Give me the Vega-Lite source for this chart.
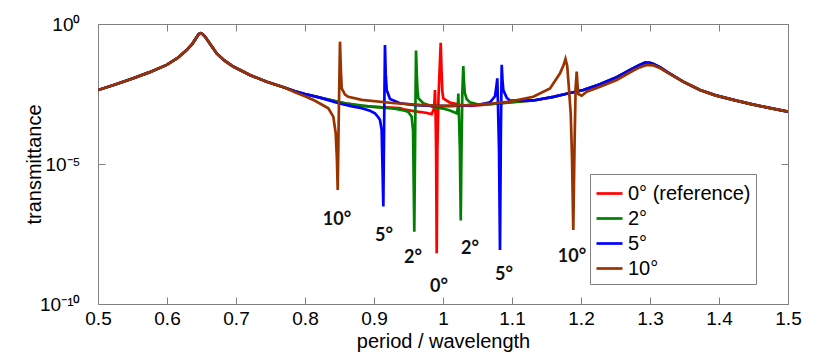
{
  "$schema": "https://vega.github.io/schema/vega-lite/v6.json",
  "autosize": "none",
  "width": 690,
  "height": 280,
  "padding": {"left": 98, "top": 24, "right": 34, "bottom": 49},
  "background": "white",
  "datasets": {
    "lines": [
      {"s":"0° (reference)","x":0.5,"t":4.37e-3},{"s":"0° (reference)","x":0.525,"t":6.92e-3},{"s":"0° (reference)","x":0.5512,"t":1.15e-2},{"s":"0° (reference)","x":0.575,"t":1.91e-2},{"s":"0° (reference)","x":0.5995,"t":3.47e-2},{"s":"0° (reference)","x":0.615,"t":6.03e-2},{"s":"0° (reference)","x":0.6285,"t":0.1175},{"s":"0° (reference)","x":0.637,"t":0.2},{"s":"0° (reference)","x":0.643,"t":0.339},{"s":"0° (reference)","x":0.646,"t":0.4365},{"s":"0° (reference)","x":0.6488,"t":0.468},{"s":"0° (reference)","x":0.6515,"t":0.4365},{"s":"0° (reference)","x":0.655,"t":0.355},{"s":"0° (reference)","x":0.662,"t":0.2},{"s":"0° (reference)","x":0.672,"t":0.0891},{"s":"0° (reference)","x":0.683,"t":0.0501},{"s":"0° (reference)","x":0.696,"t":0.0302},{"s":"0° (reference)","x":0.72,"t":0.0151},{"s":"0° (reference)","x":0.7445,"t":0.00871},{"s":"0° (reference)","x":0.77,"t":0.00537},
      {"s":"0° (reference)","x":0.7855,"t":3.98e-3},{"s":"0° (reference)","x":0.8,"t":3.16e-3},{"s":"0° (reference)","x":0.8217,"t":2.34e-3},{"s":"0° (reference)","x":0.85,"t":1.585e-3},{"s":"0° (reference)","x":0.88,"t":1.2e-3},{"s":"0° (reference)","x":0.91,"t":1.07e-3},{"s":"0° (reference)","x":0.9377,"t":1e-3},{"s":"0° (reference)","x":0.9449,"t":8.71e-4},{"s":"0° (reference)","x":0.96,"t":7.59e-4},{"s":"0° (reference)","x":0.975,"t":6.76e-4},{"s":"0° (reference)","x":0.9836,"t":6.03e-4},{"s":"0° (reference)","x":0.9872,"t":1e-3},{"s":"0° (reference)","x":0.9884,"t":4.37e-3},{"s":"0° (reference)","x":0.9893,"t":5.01e-4},{"s":"0° (reference)","x":0.99,"t":3.16e-5},{"s":"0° (reference)","x":0.9909,"t":6.46e-9},{"s":"0° (reference)","x":0.9918,"t":3.16e-5},{"s":"0° (reference)","x":0.9935,"t":2.51e-3},{"s":"0° (reference)","x":0.9967,"t":0.214},{"s":"0° (reference)","x":0.9978,"t":2.51e-2},{"s":"0° (reference)","x":0.999,"t":3.98e-3},{"s":"0° (reference)","x":1.0004,"t":2.19e-3},{"s":"0° (reference)","x":1.0101,"t":1.55e-3},{"s":"0° (reference)","x":1.0246,"t":1.29e-3},{"s":"0° (reference)","x":1.04,"t":1.2e-3},
      {"s":"0° (reference)","x":1.06,"t":1.32e-3},{"s":"0° (reference)","x":1.08,"t":1.445e-3},{"s":"0° (reference)","x":1.1,"t":1.62e-3},{"s":"0° (reference)","x":1.1309,"t":1.86e-3},{"s":"0° (reference)","x":1.16,"t":2.51e-3},{"s":"0° (reference)","x":1.1792,"t":3.24e-3},{"s":"0° (reference)","x":1.2033,"t":4.37e-3},{"s":"0° (reference)","x":1.2275,"t":7.08e-3},{"s":"0° (reference)","x":1.242,"t":1e-2},{"s":"0° (reference)","x":1.2517,"t":1.26e-2},{"s":"0° (reference)","x":1.2758,"t":2.63e-2},{"s":"0° (reference)","x":1.285,"t":3.47e-2},{"s":"0° (reference)","x":1.2928,"t":4.17e-2},{"s":"0° (reference)","x":1.3,"t":4.07e-2},{"s":"0° (reference)","x":1.305,"t":3.72e-2},{"s":"0° (reference)","x":1.315,"t":2.82e-2},{"s":"0° (reference)","x":1.324,"t":2e-2},{"s":"0° (reference)","x":1.348,"t":8.71e-3},{"s":"0° (reference)","x":1.3725,"t":4.37e-3},{"s":"0° (reference)","x":1.395,"t":2.82e-3},{"s":"0° (reference)","x":1.4208,"t":1.95e-3},{"s":"0° (reference)","x":1.445,"t":1.41e-3},{"s":"0° (reference)","x":1.469,"t":1.05e-3},{"s":"0° (reference)","x":1.5,"t":7.41e-4},

      {"s":"2°","x":0.5,"t":4.37e-3},{"s":"2°","x":0.525,"t":6.92e-3},{"s":"2°","x":0.5512,"t":1.15e-2},{"s":"2°","x":0.575,"t":1.91e-2},{"s":"2°","x":0.5995,"t":3.47e-2},{"s":"2°","x":0.615,"t":6.03e-2},{"s":"2°","x":0.6285,"t":0.1175},{"s":"2°","x":0.637,"t":0.2},{"s":"2°","x":0.643,"t":0.339},{"s":"2°","x":0.646,"t":0.4365},{"s":"2°","x":0.6488,"t":0.468},{"s":"2°","x":0.6515,"t":0.4365},{"s":"2°","x":0.655,"t":0.355},{"s":"2°","x":0.662,"t":0.2},{"s":"2°","x":0.672,"t":0.0891},{"s":"2°","x":0.683,"t":0.0501},{"s":"2°","x":0.696,"t":0.0302},{"s":"2°","x":0.72,"t":0.0151},{"s":"2°","x":0.7445,"t":0.00871},{"s":"2°","x":0.77,"t":0.00537},
      {"s":"2°","x":0.7855,"t":3.98e-3},{"s":"2°","x":0.8,"t":3.16e-3},{"s":"2°","x":0.8217,"t":2.34e-3},{"s":"2°","x":0.858,"t":1.48e-3},{"s":"2°","x":0.8942,"t":1.12e-3},{"s":"2°","x":0.93,"t":9.55e-4},{"s":"2°","x":0.9449,"t":7.94e-4},{"s":"2°","x":0.9497,"t":7.24e-4},{"s":"2°","x":0.9546,"t":4.9e-4},{"s":"2°","x":0.9566,"t":1.585e-4},{"s":"2°","x":0.9584,"t":3.8e-8},{"s":"2°","x":0.9597,"t":1.585e-4},{"s":"2°","x":0.9609,"t":0.112},{"s":"2°","x":0.962,"t":1.585e-2},{"s":"2°","x":0.963,"t":4.37e-3},{"s":"2°","x":0.9642,"t":2.24e-3},{"s":"2°","x":0.9714,"t":1.48e-3},{"s":"2°","x":0.985,"t":1.12e-3},{"s":"2°","x":1.0,"t":9.55e-4},{"s":"2°","x":1.0101,"t":8.13e-4},{"s":"2°","x":1.0199,"t":6.46e-4},{"s":"2°","x":1.0214,"t":1e-3},{"s":"2°","x":1.0222,"t":3.31e-3},{"s":"2°","x":1.0232,"t":5.01e-4},{"s":"2°","x":1.0245,"t":3.16e-5},{"s":"2°","x":1.0257,"t":9.55e-8},{"s":"2°","x":1.0268,"t":3.16e-5},{"s":"2°","x":1.028,"t":3.16e-3},{"s":"2°","x":1.0294,"t":3.16e-2},{"s":"2°","x":1.0305,"t":7.94e-3},{"s":"2°","x":1.0315,"t":3.55e-3},{"s":"2°","x":1.0343,"t":2.09e-3},{"s":"2°","x":1.0391,"t":1.585e-3},{"s":"2°","x":1.05,"t":1.35e-3},
      {"s":"2°","x":1.06,"t":1.32e-3},{"s":"2°","x":1.08,"t":1.445e-3},{"s":"2°","x":1.1,"t":1.62e-3},{"s":"2°","x":1.1309,"t":1.86e-3},{"s":"2°","x":1.16,"t":2.51e-3},{"s":"2°","x":1.1792,"t":3.24e-3},{"s":"2°","x":1.2033,"t":4.37e-3},{"s":"2°","x":1.2275,"t":7.08e-3},{"s":"2°","x":1.242,"t":1e-2},{"s":"2°","x":1.2517,"t":1.26e-2},{"s":"2°","x":1.2758,"t":2.63e-2},{"s":"2°","x":1.285,"t":3.47e-2},{"s":"2°","x":1.2928,"t":4.17e-2},{"s":"2°","x":1.3,"t":4.07e-2},{"s":"2°","x":1.305,"t":3.72e-2},{"s":"2°","x":1.315,"t":2.82e-2},{"s":"2°","x":1.324,"t":2e-2},{"s":"2°","x":1.348,"t":8.71e-3},{"s":"2°","x":1.3725,"t":4.37e-3},{"s":"2°","x":1.395,"t":2.82e-3},{"s":"2°","x":1.4208,"t":1.95e-3},{"s":"2°","x":1.445,"t":1.41e-3},{"s":"2°","x":1.469,"t":1.05e-3},{"s":"2°","x":1.5,"t":7.41e-4},

      {"s":"5°","x":0.5,"t":4.37e-3},{"s":"5°","x":0.525,"t":6.92e-3},{"s":"5°","x":0.5512,"t":1.15e-2},{"s":"5°","x":0.575,"t":1.91e-2},{"s":"5°","x":0.5995,"t":3.47e-2},{"s":"5°","x":0.615,"t":6.03e-2},{"s":"5°","x":0.6285,"t":0.1175},{"s":"5°","x":0.637,"t":0.2},{"s":"5°","x":0.643,"t":0.339},{"s":"5°","x":0.646,"t":0.4365},{"s":"5°","x":0.6488,"t":0.468},{"s":"5°","x":0.6515,"t":0.4365},{"s":"5°","x":0.655,"t":0.355},{"s":"5°","x":0.662,"t":0.2},{"s":"5°","x":0.672,"t":0.0891},{"s":"5°","x":0.683,"t":0.0501},{"s":"5°","x":0.696,"t":0.0302},{"s":"5°","x":0.72,"t":0.0151},{"s":"5°","x":0.7445,"t":0.00871},{"s":"5°","x":0.77,"t":0.00537},
      {"s":"5°","x":0.7855,"t":3.98e-3},{"s":"5°","x":0.8,"t":3.16e-3},{"s":"5°","x":0.8217,"t":2.34e-3},{"s":"5°","x":0.8338,"t":1.905e-3},{"s":"5°","x":0.85,"t":1.445e-3},{"s":"5°","x":0.87,"t":1.12e-3},{"s":"5°","x":0.8822,"t":9.77e-4},{"s":"5°","x":0.8942,"t":7.94e-4},{"s":"5°","x":0.9014,"t":6.46e-4},{"s":"5°","x":0.9062,"t":4.68e-4},{"s":"5°","x":0.9087,"t":3.72e-4},{"s":"5°","x":0.9111,"t":1.62e-4},{"s":"5°","x":0.9126,"t":3.55e-6},{"s":"5°","x":0.9135,"t":3.02e-7},{"s":"5°","x":0.9147,"t":3.16e-4},{"s":"5°","x":0.9159,"t":0.178},{"s":"5°","x":0.917,"t":1.585e-2},{"s":"5°","x":0.9184,"t":4.37e-3},{"s":"5°","x":0.9232,"t":2.09e-3},{"s":"5°","x":0.9377,"t":1.48e-3},{"s":"5°","x":0.96,"t":1.26e-3},{"s":"5°","x":0.9859,"t":1.2e-3},{"s":"5°","x":1.01,"t":1.175e-3},{"s":"5°","x":1.0343,"t":1.23e-3},{"s":"5°","x":1.0536,"t":1.32e-3},{"s":"5°","x":1.0681,"t":1.585e-3},{"s":"5°","x":1.0754,"t":2.63e-3},{"s":"5°","x":1.0775,"t":6.31e-3},{"s":"5°","x":1.0787,"t":1.15e-2},{"s":"5°","x":1.0797,"t":1.26e-3},{"s":"5°","x":1.0812,"t":3.16e-5},{"s":"5°","x":1.0826,"t":8.51e-9},{"s":"5°","x":1.0838,"t":1e-4},{"s":"5°","x":1.0851,"t":3.47e-2},{"s":"5°","x":1.0862,"t":1e-2},{"s":"5°","x":1.0874,"t":4.37e-3},{"s":"5°","x":1.0923,"t":2.34e-3},{"s":"5°","x":1.0971,"t":1.82e-3},{"s":"5°","x":1.1309,"t":1.86e-3},
      {"s":"5°","x":1.16,"t":2.51e-3},{"s":"5°","x":1.1792,"t":3.24e-3},{"s":"5°","x":1.2033,"t":4.37e-3},{"s":"5°","x":1.2275,"t":7.08e-3},{"s":"5°","x":1.242,"t":1e-2},{"s":"5°","x":1.2517,"t":1.26e-2},{"s":"5°","x":1.2758,"t":2.63e-2},{"s":"5°","x":1.285,"t":3.47e-2},{"s":"5°","x":1.2928,"t":4.17e-2},{"s":"5°","x":1.3,"t":4.07e-2},{"s":"5°","x":1.305,"t":3.72e-2},{"s":"5°","x":1.315,"t":2.82e-2},{"s":"5°","x":1.324,"t":2e-2},{"s":"5°","x":1.348,"t":8.71e-3},{"s":"5°","x":1.3725,"t":4.37e-3},{"s":"5°","x":1.395,"t":2.82e-3},{"s":"5°","x":1.4208,"t":1.95e-3},{"s":"5°","x":1.445,"t":1.41e-3},{"s":"5°","x":1.469,"t":1.05e-3},{"s":"5°","x":1.5,"t":7.41e-4},

      {"s":"10°","x":0.5,"t":4.37e-3},{"s":"10°","x":0.525,"t":6.92e-3},{"s":"10°","x":0.5512,"t":1.15e-2},{"s":"10°","x":0.575,"t":1.91e-2},{"s":"10°","x":0.5995,"t":3.47e-2},{"s":"10°","x":0.615,"t":6.03e-2},{"s":"10°","x":0.6285,"t":0.1175},{"s":"10°","x":0.637,"t":0.2},{"s":"10°","x":0.643,"t":0.339},{"s":"10°","x":0.646,"t":0.4365},{"s":"10°","x":0.6488,"t":0.468},{"s":"10°","x":0.6515,"t":0.4365},{"s":"10°","x":0.655,"t":0.355},{"s":"10°","x":0.662,"t":0.2},{"s":"10°","x":0.672,"t":0.0891},{"s":"10°","x":0.683,"t":0.0501},{"s":"10°","x":0.696,"t":0.0302},{"s":"10°","x":0.72,"t":0.0151},{"s":"10°","x":0.7445,"t":0.00871},{"s":"10°","x":0.77,"t":0.00537},
      {"s":"10°","x":0.7855,"t":3.63e-3},{"s":"10°","x":0.8,"t":2.63e-3},{"s":"10°","x":0.8145,"t":1.82e-3},{"s":"10°","x":0.8338,"t":9.77e-4},{"s":"10°","x":0.841,"t":4.9e-4},{"s":"10°","x":0.8445,"t":1.26e-4},{"s":"10°","x":0.8462,"t":1.585e-5},{"s":"10°","x":0.8474,"t":1.175e-6},{"s":"10°","x":0.8488,"t":3.16e-4},{"s":"10°","x":0.8507,"t":0.234},{"s":"10°","x":0.8519,"t":2.51e-2},{"s":"10°","x":0.8532,"t":5.01e-3},{"s":"10°","x":0.858,"t":3.02e-3},{"s":"10°","x":0.8628,"t":2.51e-3},{"s":"10°","x":0.8822,"t":1.95e-3},{"s":"10°","x":0.9304,"t":1.48e-3},{"s":"10°","x":0.9667,"t":1.29e-3},{"s":"10°","x":1.0,"t":1.2e-3},{"s":"10°","x":1.0343,"t":1.26e-3},{"s":"10°","x":1.07,"t":1.445e-3},{"s":"10°","x":1.0971,"t":1.7e-3},{"s":"10°","x":1.1309,"t":2.51e-3},{"s":"10°","x":1.1551,"t":5.01e-3},{"s":"10°","x":1.1696,"t":1.74e-2},{"s":"10°","x":1.1745,"t":3.31e-2},{"s":"10°","x":1.1775,"t":5.62e-2},{"s":"10°","x":1.18,"t":3.16e-2},{"s":"10°","x":1.1816,"t":1e-2},{"s":"10°","x":1.1851,"t":6.46e-4},{"s":"10°","x":1.187,"t":1.585e-5},{"s":"10°","x":1.1888,"t":4.37e-8},{"s":"10°","x":1.1905,"t":3.16e-5},{"s":"10°","x":1.1922,"t":5.01e-3},{"s":"10°","x":1.1938,"t":2e-2},{"s":"10°","x":1.195,"t":6.31e-3},{"s":"10°","x":1.1961,"t":3.16e-3},{"s":"10°","x":1.201,"t":2.75e-3},{"s":"10°","x":1.2083,"t":3.8e-3},{"s":"10°","x":1.2275,"t":5.75e-3},{"s":"10°","x":1.242,"t":7.94e-3},{"s":"10°","x":1.2517,"t":1e-2},{"s":"10°","x":1.2758,"t":2.19e-2},{"s":"10°","x":1.285,"t":2.82e-2},{"s":"10°","x":1.295,"t":3.47e-2},{"s":"10°","x":1.305,"t":3.31e-2},{"s":"10°","x":1.315,"t":2.63e-2},{"s":"10°","x":1.324,"t":1.91e-2},{"s":"10°","x":1.348,"t":8.71e-3},{"s":"10°","x":1.3725,"t":4.37e-3},{"s":"10°","x":1.395,"t":2.82e-3},{"s":"10°","x":1.4208,"t":1.95e-3},{"s":"10°","x":1.445,"t":1.41e-3},{"s":"10°","x":1.469,"t":1.05e-3},{"s":"10°","x":1.5,"t":7.41e-4}
    ],
    "labels": [
      {"x":0.8464,"t":1e-7,"label":"10°"},
      {"x":0.9145,"t":2.69e-8,"label":"5°"},
      {"x":0.9565,"t":4.37e-9,"label":"2°"},
      {"x":0.9942,"t":4.07e-10,"label":"0°"},
      {"x":1.0391,"t":9.12e-9,"label":"2°"},
      {"x":1.0884,"t":1.1e-9,"label":"5°"},
      {"x":1.187,"t":4.79e-9,"label":"10°"}
    ]
  },
  "layer": [
    {
      "data": {"name": "lines"},
      "mark": {"type": "line", "strokeWidth": 2.7, "clip": true},
      "encoding": {
        "x": {"field": "x", "type": "quantitative",
          "scale": {"domain": [0.5, 1.5], "nice": false, "zero": false},
          "axis": {"orient": "bottom", "values": [0.5,0.6,0.7,0.8,0.9,1,1.1,1.2,1.3,1.4,1.5], "format": "~g",
            "labelFlush": false, "labelFontSize": 19, "labelPadding": 12, "tickSize": -7,
            "title": "period / wavelength", "titleFont": "Liberation Sans", "titleFontSize": 20, "titleFontWeight": "normal",
            "titleColor": "black", "titleY": 43, "titleBaseline": "alphabetic"}},
        "y": {"field": "t", "type": "quantitative",
          "scale": {"type": "log", "domain": [1e-10, 1], "nice": false},
          "axis": {"orient": "left", "values": [1e-10, 1e-5, 1],
            "labelExpr": "datum.value > 0.1 ? '10⁰' : (datum.value > 1e-7 ? '10⁻⁵' : '10⁻¹⁰')",
            "labelFlush": false, "labelFontSize": 19, "labelPadding": 25, "tickSize": -7, "labelBaseline": "middle",
            "title": "transmittance", "titleFont": "Liberation Sans", "titleFontSize": 20, "titleFontWeight": "normal",
            "titleColor": "black", "titleX": -64, "titleY": 140, "titleAngle": -90, "titleBaseline": "middle", "titleAlign": "center"}},
        "color": {"field": "s", "type": "nominal",
          "scale": {"domain": ["0° (reference)", "2°", "5°", "10°"], "range": ["#ff0000", "#008000", "#0000ff", "#993300"]},
          "legend": {"orient": "none", "legendX": 492, "legendY": 150, "title": null, "symbolType": "stroke",
            "symbolSize": 676, "symbolStrokeWidth": 2.7, "labelFontSize": 20, "labelFont": "Liberation Sans",
            "labelColor": "black", "strokeColor": "#808080", "fillColor": "white", "padding": 5, "rowPadding": 0,
            "labelLimit": 300, "labelOffset": 4}}
      }
    },
    {
      "data": {"name": "labels"},
      "mark": {"type": "text", "font": "Lato", "fontWeight": "bold", "fontSize": 18, "color": "#111111", "align": "center", "baseline": "middle"},
      "encoding": {
        "x": {"field": "x", "type": "quantitative",
          "scale": {"domain": [0.5, 1.5], "nice": false, "zero": false},
          "axis": {"orient": "top", "values": [0.5,0.6,0.7,0.8,0.9,1,1.1,1.2,1.3,1.4,1.5], "labels": false, "tickSize": -7, "title": null}},
        "y": {"field": "t", "type": "quantitative",
          "scale": {"type": "log", "domain": [1e-10, 1], "nice": false},
          "axis": {"orient": "right", "values": [1e-10, 1e-5, 1], "labels": false, "tickSize": -7, "title": null}},
        "text": {"field": "label"}
      }
    }
  ],
  "resolve": {"axis": {"x": "independent", "y": "independent"}},
  "config": {
    "view": {"stroke": null},
    "axis": {"domainColor": "#808080", "tickColor": "#808080", "labelColor": "black", "labelFont": "Liberation Sans", "grid": false, "domainWidth": 1, "tickWidth": 1}
  }
}
